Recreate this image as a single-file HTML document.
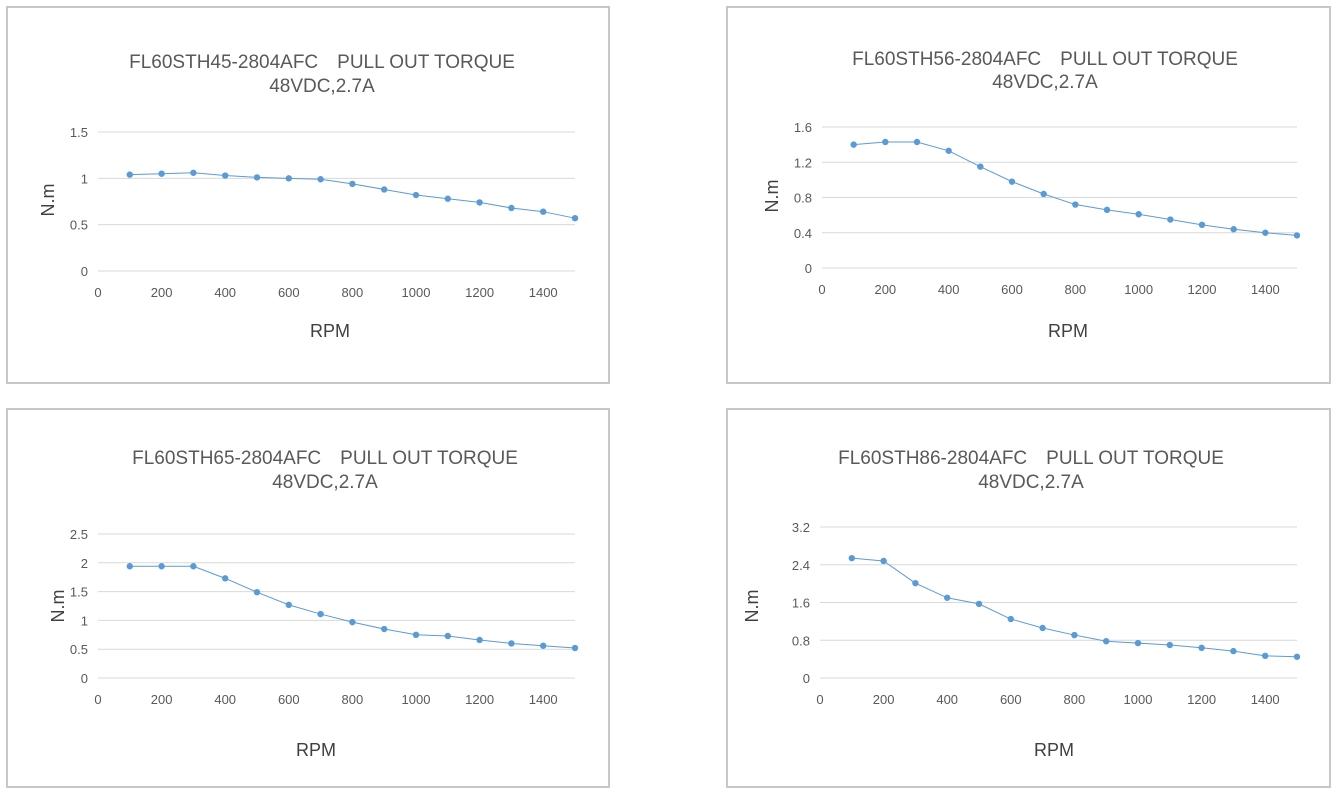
<!DOCTYPE html>
<html><head><meta charset="utf-8"><style>
html,body{margin:0;padding:0;background:#fff;}
svg{display:block;font-family:"Liberation Sans",sans-serif;}
</style></head><body>
<svg width="1340" height="796" viewBox="0 0 1340 796" xmlns="http://www.w3.org/2000/svg">
<rect width="1340" height="796" fill="#fff"/>
<g id="c"></g>
</svg>
<script>
const charts=[
 {box:[6,6,604,378],t1:"FL60STH45-2804AFC　PULL OUT TORQUE",t2:"48VDC,2.7A",tx:322,ty1:68,ty2:92,x0:98,x1:575,y0:271,y1:132,ymax:1.5,ticks:[0,0.5,1,1.5],lab:["0","0.5","1","1.5"],yt:[48,200],xt:[330,337],
  d:[1.04,1.05,1.06,1.03,1.01,1.0,0.99,0.94,0.88,0.82,0.78,0.74,0.68,0.64,0.57]},
 {box:[726,6,605,378],t1:"FL60STH56-2804AFC　PULL OUT TORQUE",t2:"48VDC,2.7A",tx:1045,ty1:65,ty2:88,x0:822,x1:1297,y0:268,y1:127,ymax:1.6,ticks:[0,0.4,0.8,1.2,1.6],lab:["0","0.4","0.8","1.2","1.6"],yt:[772,196],xt:[1068,337],
  d:[1.40,1.43,1.43,1.33,1.15,0.98,0.84,0.72,0.66,0.61,0.55,0.49,0.44,0.40,0.37]},
 {box:[6,408,604,380],t1:"FL60STH65-2804AFC　PULL OUT TORQUE",t2:"48VDC,2.7A",tx:325,ty1:464,ty2:488,x0:98,x1:575,y0:678,y1:534,ymax:2.5,ticks:[0,0.5,1,1.5,2,2.5],lab:["0","0.5","1","1.5","2","2.5"],yt:[58,606],xt:[316,756],
  d:[1.94,1.94,1.94,1.73,1.49,1.27,1.11,0.97,0.85,0.75,0.73,0.66,0.60,0.56,0.52]},
 {box:[726,408,605,380],t1:"FL60STH86-2804AFC　PULL OUT TORQUE",t2:"48VDC,2.7A",tx:1031,ty1:464,ty2:488,x0:820,x1:1297,y0:678,y1:527,ymax:3.2,ticks:[0,0.8,1.6,2.4,3.2],lab:["0","0.8","1.6","2.4","3.2"],yt:[752,606],xt:[1054,756],
  d:[2.54,2.48,2.01,1.70,1.57,1.25,1.06,0.91,0.78,0.74,0.70,0.64,0.57,0.47,0.45]}
];
let s="";
for(const c of charts){
 const [bx,by,bw,bh]=c.box;
 s+=`<rect x="${bx+1}" y="${by+1}" width="${bw-2}" height="${bh-2}" fill="#fff" stroke="#c8c8c8" stroke-width="2"/>`;
 s+=`<text x="${c.tx}" y="${c.ty1}" font-size="19" fill="#595959" text-anchor="middle">${c.t1}</text>`;
 s+=`<text x="${c.tx}" y="${c.ty2}" font-size="19" fill="#595959" text-anchor="middle">${c.t2}</text>`;
 const X=v=>c.x0+(c.x1-c.x0)*v/1500, Y=v=>c.y0-(c.y0-c.y1)*v/c.ymax;
 c.ticks.forEach((t,i)=>{const y=Y(t);s+=`<line x1="${c.x0}" x2="${c.x1}" y1="${y}" y2="${y}" stroke="#d9d9d9" stroke-width="1"/>`;
  s+=`<text x="${c.x0-10}" y="${y+5}" font-size="13" fill="#595959" text-anchor="end">${c.lab[i]}</text>`;});
 for(let v=0;v<=1400;v+=200)s+=`<text x="${X(v)}" y="${c.y0+26}" font-size="13" fill="#595959" text-anchor="middle">${v}</text>`;
 s+=`<line x1="${c.x0}" x2="${c.x1}" y1="${c.y0}" y2="${c.y0}" stroke="#d9d9d9"/>`;
 s+=`<text transform="translate(${c.yt[0]+6},${c.yt[1]}) rotate(-90)" font-size="18" fill="#404040" text-anchor="middle">N.m</text>`;
 s+=`<text x="${c.xt[0]}" y="${c.xt[1]}" font-size="18" fill="#404040" text-anchor="middle">RPM</text>`;
 const pts=c.d.map((v,i)=>[X((i+1)*100),Y(v)]);
 s+=`<polyline points="${pts.map(p=>p.join(',')).join(' ')}" fill="none" stroke="#5b9bd5" stroke-width="1"/>`;
 pts.forEach(p=>s+=`<circle cx="${p[0]}" cy="${p[1]}" r="3.2" fill="#5b9bd5"/>`);
}
document.getElementById('c').innerHTML=s;
</script>
</body></html>
